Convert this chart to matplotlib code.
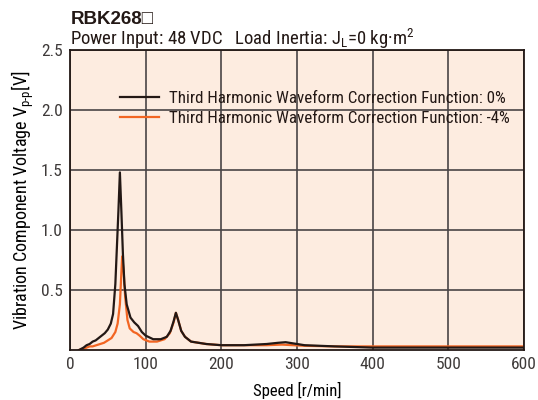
import matplotlib
matplotlib.use('Agg')
import matplotlib.pyplot as plt

plt.rcParams['font.family'] = ['Roboto Condensed', 'DejaVu Sans']
plt.rcParams['mathtext.fontset'] = 'custom'
plt.rcParams['mathtext.rm'] = 'Roboto Condensed'
plt.rcParams['mathtext.it'] = 'Roboto Condensed'
plt.rcParams['text.color'] = '#231815'

# speed [r/min] and Vp-p [V]
speed_0 = [12, 18, 22, 26, 30, 34, 38, 42, 46, 50, 54, 57, 60, 62, 64, 66, 68, 70, 72,
           75, 80, 85, 90, 95, 100, 110, 120, 128, 133, 137, 140, 143, 147, 152,
           160, 180, 200, 230, 260, 275, 285, 295, 310, 350, 400, 450, 500, 550, 600]
volt_0 = [0.0, 0.02, 0.04, 0.05, 0.07, 0.08, 0.10, 0.12, 0.14, 0.17, 0.22, 0.30, 0.55,
          0.85, 1.15, 1.48, 1.15, 0.80, 0.55, 0.38, 0.27, 0.23, 0.20, 0.15, 0.12,
          0.09, 0.09, 0.11, 0.16, 0.24, 0.31, 0.25, 0.16, 0.11, 0.07, 0.05, 0.04,
          0.04, 0.05, 0.06, 0.065, 0.055, 0.04, 0.03, 0.02, 0.02, 0.02, 0.02, 0.02]

speed_4 = [12, 18, 22, 26, 30, 35, 40, 45, 50, 55, 60, 63, 66, 68, 69, 71, 73, 76,
           79, 84, 88, 92, 97, 105, 115, 125, 132, 137, 140, 143, 147, 152, 160,
           180, 200, 230, 260, 280, 295, 310, 350, 400, 450, 500, 550, 600]
volt_4 = [0.0, 0.01, 0.02, 0.03, 0.03, 0.04, 0.05, 0.06, 0.08, 0.10, 0.15, 0.22, 0.38,
          0.65, 0.78, 0.65, 0.44, 0.25, 0.18, 0.15, 0.14, 0.12, 0.09, 0.07, 0.07,
          0.09, 0.14, 0.23, 0.31, 0.25, 0.16, 0.11, 0.07, 0.05, 0.04, 0.04, 0.04,
          0.045, 0.04, 0.035, 0.03, 0.03, 0.03, 0.03, 0.03, 0.03]

x_ticks = [0, 100, 200, 300, 400, 500, 600]
y_ticks = [0.5, 1.0, 1.5, 2.0, 2.5]
y_labels = ['0.5', '1.0', '1.5', '2.0', '2.5']

fig = plt.figure(figsize=(5.38, 4.0), dpi=100)
ax = fig.add_axes([0.130, 0.125, 0.844, 0.75])
ax.set_facecolor('#fdece0')

ax.plot(speed_0, volt_0, color='#231815', lw=1.6,
        label='Third Harmonic Waveform Correction Function: 0%', zorder=3)
ax.plot(speed_4, volt_4, color='#f26522', lw=1.6,
        label='Third Harmonic Waveform Correction Function: -4%', zorder=2)

ax.set_xlim(0, 600)
ax.set_ylim(0, 2.5)
ax.set_xticks(x_ticks)
ax.set_yticks(y_ticks)
ax.set_yticklabels(y_labels)
ax.tick_params(length=0, labelsize=12.5, pad=5, labelcolor='#3e3a39')
ax.grid(True, color='#4a4546', lw=1.2)
ax.set_axisbelow(True)
for s in ax.spines.values():
    s.set_color('#231815')
    s.set_linewidth(1.3)

ax.set_xlabel('Speed [r/min]', fontsize=12, labelpad=7)
ax.set_ylabel(r'Vibration Component Voltage V$_{\mathrm{p\text{-}p}}$[V]', fontsize=13, labelpad=4)

leg = ax.legend(loc='upper left', bbox_to_anchor=(0.095, 0.885), frameon=False,
                fontsize=12.2, handlelength=2.3, handletextpad=0.6,
                labelspacing=0.25, borderaxespad=0)

fig.text(0.132, 0.94, 'RBK268\u25a1', fontsize=13.5, fontweight='bold',
         family=['Liberation Sans', 'DejaVu Sans'])
fig.text(0.13, 0.888, r'Power Input: 48 VDC   Load Inertia: J$_{\mathrm{L}}$=0 kg·m$^{2}$',
         fontsize=13.5)

fig.savefig('out.png', dpi=100)
